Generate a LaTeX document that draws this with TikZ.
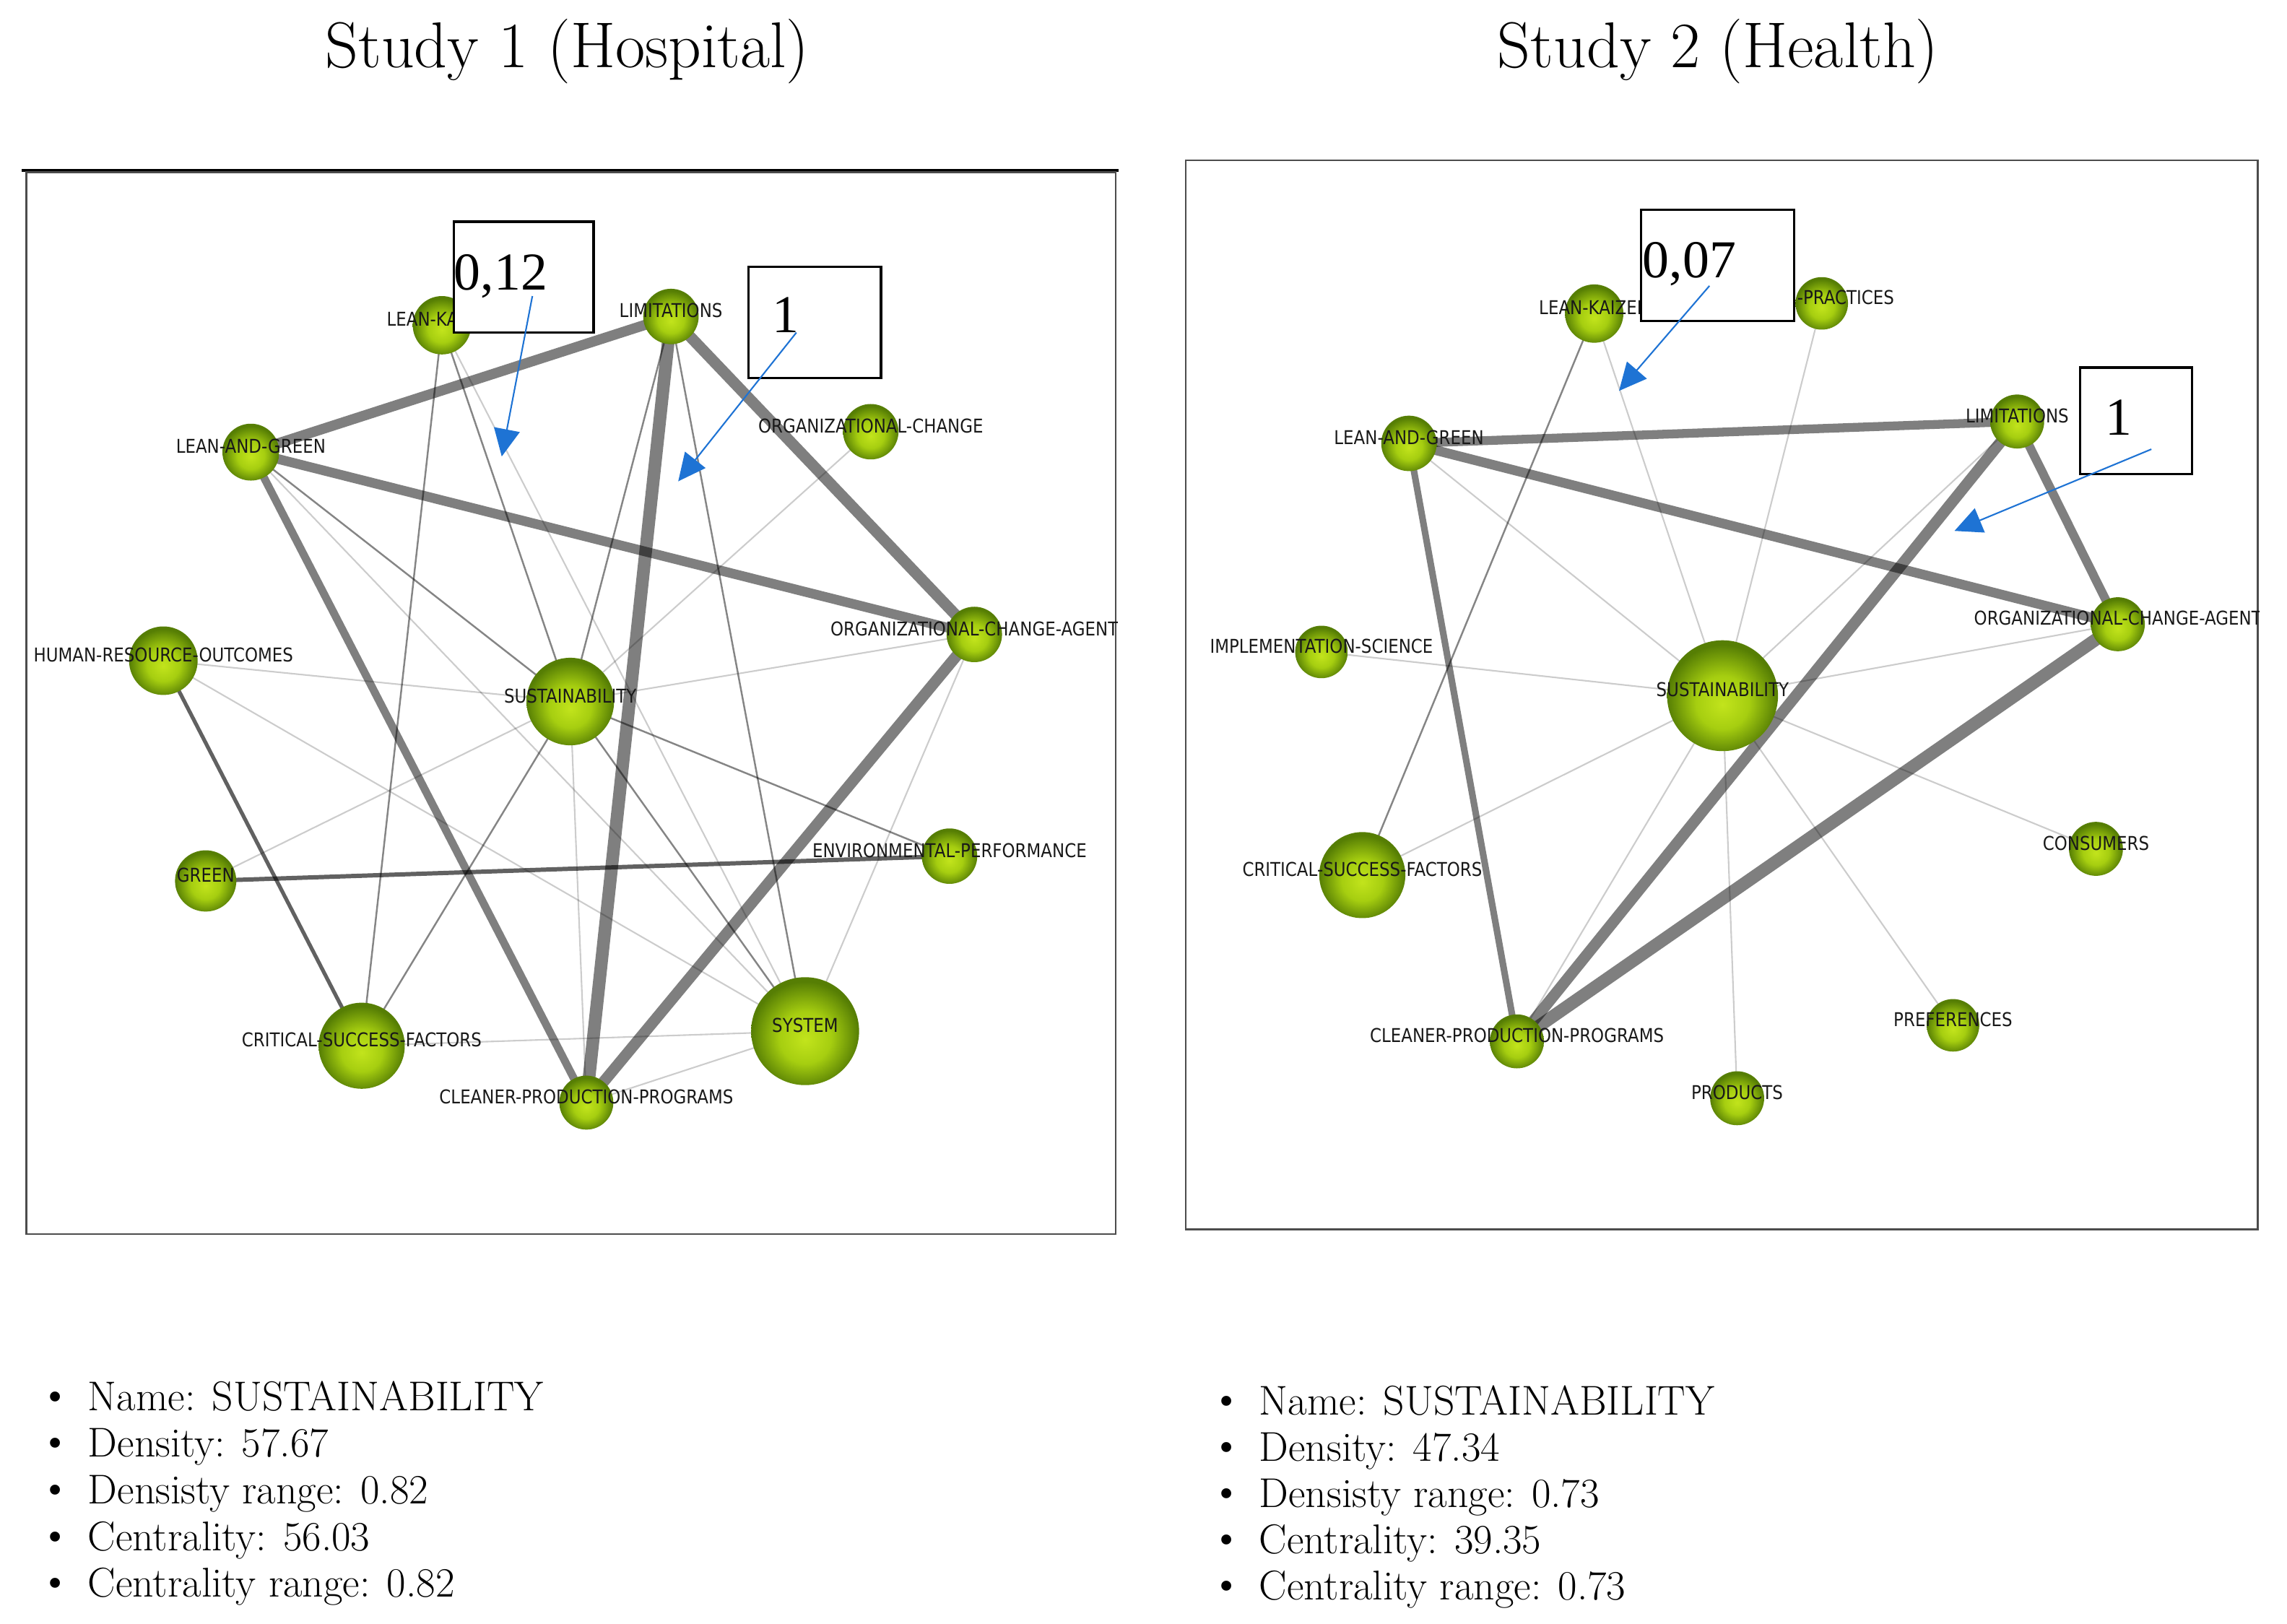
\documentclass[tikz,border=0pt]{standalone}
\usepackage{fontspec}
\newfontfamily\lblfont[FakeStretch=0.87]{DejaVu Sans}
\newfontfamily\numfont{Liberation Serif}
\usetikzlibrary{arrows.meta,backgrounds}

\definecolor{ballin}{RGB}{194,228,28}
\definecolor{ballmid}{RGB}{166,206,16}
\definecolor{ballout}{RGB}{86,126,4}
\definecolor{noteblue}{RGB}{30,115,212}
\pgfdeclareradialshading{nodeball}{\pgfpoint{0bp}{-4bp}}{color(0bp)=(ballin); color(12bp)=(ballmid); color(25bp)=(ballout); color(50bp)=(ballout)}

\newcommand{\bulletmark}{\llap{{\numfont\textbullet}\hskip 10pt}}

\tikzset{
  term/.style={circle, inner sep=0pt, minimum size=#1*0.0404cm, shading=nodeball},
  termlabel/.style={inner sep=0pt, text=black!90, font=\lblfont\fontsize{7.5}{8.5}\selectfont},
  strong/.style={line width=#1, draw=black, draw opacity=.5},
  darkish/.style={line width=#1, draw=black, draw opacity=.62},
  thinline/.style={line width=.7pt, draw=black, draw opacity=.48},
  faint/.style={line width=.6pt, draw=black, draw opacity=.2},
  notebox/.style={draw=black, fill=white, line width=.9pt},
  notenum/.style={inner sep=0pt, anchor=base west, font=\numfont\fontsize{21}{24}\selectfont},
  notearrow/.style={noteblue, line width=.6pt, -{Triangle[length=.38cm,width=.36cm]}},
  panelframe/.style={draw=black!70, line width=.7pt},
  paneltitle/.style={font=\fontsize{25.5}{30}\selectfont},
  listitem/.style={inner sep=0pt, anchor=base west, font=\fontsize{16.4}{19}\selectfont}
}

\begin{document}
\begin{tikzpicture}[x=0.0202cm, y=-0.0202cm]
\useasboundingbox (0,0) rectangle (1568,1113);

\node[paneltitle] (h-title) at (389,35) {Study 1 (Hospital)};
\node[paneltitle] (g-title) at (1178,35) {Study 2 (Health)};

% study 1
\draw[line width=1.2pt] (15,117) -- (767,117);
\draw[panelframe] (18,118) rectangle (765,846);
\begin{scope}
\clip (18,118) rectangle (766,846);
\foreach \n/\x/\y/\r/\t in {
  lk/303/223/20/LEAN-KAIZEN,
  lim/460/217/19/LIMITATIONS,
  orgc/597/296/19/ORGANIZATIONAL-CHANGE,
  lag/172/310/19.5/LEAN-AND-GREEN,
  oca/668/435/19/ORGANIZATIONAL-CHANGE-AGENT,
  hro/112/453/23.5/HUMAN-RESOURCE-OUTCOMES,
  sust/391/481/30/SUSTAINABILITY,
  green/141/604/21/GREEN,
  env/651/587/19/ENVIRONMENTAL-PERFORMANCE,
  csf/248/717/29.5/CRITICAL-SUCCESS-FACTORS,
  sys/552/707/37/SYSTEM,
  cpp/402/756/18.5/CLEANER-PRODUCTION-PROGRAMS}
{
  \node[term=\r] (h-\n) at (\x,\y) {};
  \node[termlabel] (h-\n-t) at (\x,\y-4) {\t};
}
\end{scope}

\begin{pgfonlayer}{background}
\foreach \a/\b/\w in {lim/lag/4, lim/oca/4.4, lim/cpp/5, lag/oca/3.8, lag/cpp/3.1, oca/cpp/4.4}
  \draw[strong=\w pt] (h-\a.center) -- (h-\b.center);
\foreach \a/\b/\w in {green/env/1.7, hro/csf/1.5}
  \draw[darkish=\w pt] (h-\a.center) -- (h-\b.center);
\foreach \a/\b in {lag/sust, lk/sust, lk/csf, csf/sust, sust/sys, sust/env, lim/sys, lim/sust}
  \draw[thinline] (h-\a.center) -- (h-\b.center);
\foreach \a/\b in {hro/sust, hro/sys, lag/sys, lk/sys, green/sust, orgc/sust, oca/sust,
  sust/cpp, csf/sys, cpp/sys, oca/sys}
  \draw[faint] (h-\a.center) -- (h-\b.center);
\end{pgfonlayer}

\draw[notebox] (311,152) rectangle (407,228);
\node[notenum] (h-num1) at (311,199) {0,12};
\draw[notebox] (513,183) rectangle (604,259);
\node[notenum] (h-num2) at (529,228) {1};
\coordinate (h-from1) at (365,203);
\coordinate (h-to1) at (344,313);
\coordinate (h-from2) at (546,228);
\coordinate (h-to2) at (465,330);
\draw[notearrow] (h-from1) -- (h-to1);
\draw[notearrow] (h-from2) -- (h-to2);

\foreach \i/\t in {0/Name: SUSTAINABILITY, 1/Density: 57.67, 2/Densisty range: 0.82,
  3/Centrality: 56.03, 4/Centrality range: 0.82}
  \node[listitem] (h-item\i) at (60,967+32*\i) {\bulletmark\t};

% study 2
\draw[panelframe] (813,110) rectangle (1548,843);
\begin{scope}
\clip (813,110) rectangle (1549,843);
\foreach \n/\x/\y/\r/\t in {
  lk/1093/215/20/LEAN-KAIZEN,
  lag/966/304/19/LEAN-AND-GREEN,
  lim/1383/289/18.5/LIMITATIONS,
  oca/1452/428/18.5/ORGANIZATIONAL-CHANGE-AGENT,
  impl/906/447/18/IMPLEMENTATION-SCIENCE,
  sust/1181/477/38/SUSTAINABILITY,
  csf/934/600/29.5/CRITICAL-SUCCESS-FACTORS,
  cons/1437/582/18.5/CONSUMERS,
  cpp/1040/714/18.5/CLEANER-PRODUCTION-PROGRAMS,
  pref/1339/703/18/PREFERENCES,
  prod/1191/753/18.5/PRODUCTS}
{
  \node[term=\r] (g-\n) at (\x,\y) {};
  \node[termlabel] (g-\n-t) at (\x,\y-4) {\t};
}
\node[term=18] (g-prac) at (1249,208) {};
\node[termlabel, anchor=east] (g-prac-t) at (1299,204) {-PRACTICES};
\end{scope}

\begin{pgfonlayer}{background}
\foreach \a/\b/\w in {lag/lim/3.5, lag/oca/3.8, lim/oca/3.5, lim/cpp/4.4, oca/cpp/5, lag/cpp/2.6}
  \draw[strong=\w pt] (g-\a.center) -- (g-\b.center);
\draw[thinline] (g-lk.center) -- (g-csf.center);
\foreach \a/\b in {lk/sust, prac/sust, lag/sust, lim/sust, impl/sust, oca/sust, csf/sust,
  sust/cons, sust/pref, sust/prod, sust/cpp}
  \draw[faint] (g-\a.center) -- (g-\b.center);
\end{pgfonlayer}

\draw[notebox] (1125,144) rectangle (1230,220);
\node[notenum] (g-num1) at (1126,190.5) {0,07};
\draw[notebox] (1426,252) rectangle (1503,325);
\node[notenum] (g-num2) at (1443,298.5) {1};
\coordinate (g-from1) at (1172,196);
\coordinate (g-to1) at (1110,268);
\coordinate (g-from2) at (1475,308);
\coordinate (g-to2) at (1340,364);
\draw[notearrow] (g-from1) -- (g-to1);
\draw[notearrow] (g-from2) -- (g-to2);

\foreach \i/\t in {0/Name: SUSTAINABILITY, 1/Density: 47.34, 2/Densisty range: 0.73,
  3/Centrality: 39.35, 4/Centrality range: 0.73}
  \node[listitem] (g-item\i) at (863,970+31.7*\i) {\bulletmark\t};
\end{tikzpicture}
\end{document}
